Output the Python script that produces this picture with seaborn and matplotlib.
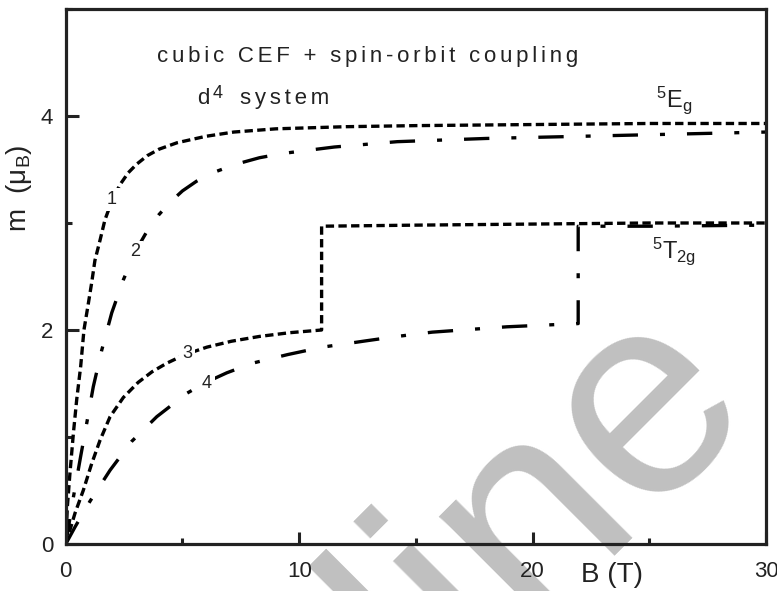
import pandas as pd
import matplotlib.pyplot as plt
import seaborn as sns
from matplotlib.ticker import MultipleLocator

# curve 1 : 5Eg, dashed
b1 = [0, 0.07, 0.18, 0.33, 0.47, 0.64, 0.78, 0.97, 1.11, 1.25, 1.47, 1.68, 2.0, 2.33, 2.68,
      3.04, 3.5, 4.0, 4.77, 6.0, 7.2, 9.0, 12, 15, 20, 25, 30]
m1 = [0, 0.35, 0.66, 1.04, 1.35, 1.66, 2.0, 2.25, 2.44, 2.65, 2.84, 3.03, 3.22, 3.36, 3.47,
      3.55, 3.63, 3.69, 3.75, 3.81, 3.85, 3.88, 3.90, 3.91, 3.92, 3.93, 3.93]

# curve 2 : 5Eg, dash-dot
b2 = [0, 0.33, 0.64, 0.9, 1.18, 1.54, 1.97, 2.47, 3.0, 3.5, 4.0, 4.5, 5.0, 5.6, 6.3, 7.3,
      8.3, 9.3, 11.5, 14.2, 18, 22, 26, 30]
m2 = [0, 0.44, 0.82, 1.13, 1.47, 1.81, 2.16, 2.47, 2.74, 2.93, 3.08, 3.2, 3.3, 3.39, 3.47,
      3.55, 3.61, 3.65, 3.71, 3.76, 3.79, 3.81, 3.83, 3.85]

# curve 3 : 5T2g, dashed
b3 = [0, 0.4, 0.75, 1.11, 1.47, 1.9, 2.47, 3.1, 3.7, 4.33, 5.1, 6.05, 7.1, 8.3, 9.6, 10.96,
      10.96, 15, 20, 25, 30]
m3 = [0, 0.29, 0.5, 0.75, 0.97, 1.19, 1.37, 1.51, 1.61, 1.69, 1.77, 1.84, 1.895, 1.94,
      1.975, 2.0, 2.97, 2.98, 2.99, 3.0, 3.0]

# curve 4 : 5T2g, dash-dot
b4 = [0, 0.4, 1.04, 1.9, 2.83, 3.9, 5.2, 6.0, 6.9, 8.0, 9.5, 11.0, 12.9, 14.2, 15.7, 18.9,
      21.95, 21.95, 25, 30]
m4 = [0, 0.16, 0.4, 0.69, 0.96, 1.19, 1.41, 1.51, 1.6, 1.69, 1.77, 1.84, 1.9, 1.94, 1.98,
      2.03, 2.06, 2.97, 2.97, 2.98]

curve_names = ["1", "2", "3", "4"]
x_ticks = [0, 10, 20, 30]
y_ticks = [0, 2, 4]

frames = []
for name, b, m in zip(curve_names, [b1, b2, b3, b4], [m1, m2, m3, m4]):
    frames.append(pd.DataFrame({"B": b, "m": m, "curve": name}))
df = pd.concat(frames, ignore_index=True)

dash_map = {"1": (2.5, 1.3), "2": (7.6, 6.6, 1.5, 6.6),
            "3": (2.5, 1.3), "4": (7.6, 6.6, 1.5, 6.6)}

sns.set_style("ticks")
plt.rcParams['font.family'] = ['Liberation Sans', 'DejaVu Sans']
plt.rcParams['mathtext.fontset'] = 'custom'
plt.rcParams['mathtext.rm'] = 'Liberation Sans'
plt.rcParams['mathtext.default'] = 'regular'

ink = "#222222"


def spaced(s):
    # the reference text is set with wide letter spacing
    return "\u2006".join(s)


fig = plt.figure(figsize=(7.77, 5.91), dpi=100)
ax = fig.add_axes([0.0846, 0.0795, 0.9014, 0.9053])
ax.set_facecolor("none")

# grey watermark behind the plot
fig.text(0.2165, -0.6735, "Online", fontsize=207, color="#c0c0c0", rotation=45,
         rotation_mode="anchor", ha="left", va="baseline", zorder=-5)

sns.lineplot(data=df, x="B", y="m", style="curve", dashes=dash_map, color="black",
             lw=2.4, estimator=None, sort=False, legend=False, ax=ax)

ax.set_xlim(0, 30)
ax.set_ylim(0, 5)
ax.set_xticks(x_ticks)
ax.set_yticks(y_ticks)
ax.xaxis.set_minor_locator(MultipleLocator(5))
ax.yaxis.set_minor_locator(MultipleLocator(1))
ax.tick_params(which="both", direction="in", width=2.2, color=ink,
               top=False, right=False)
ax.tick_params(which="major", length=9, labelsize=16, labelcolor=ink)
ax.tick_params(axis="x", which="major", pad=12)
ax.tick_params(axis="y", which="major", pad=9)
ax.tick_params(which="minor", length=4.5)
for sp in ax.spines.values():
    sp.set_linewidth(2.3)
    sp.set_color(ink)
    sp.set_visible(True)

ax.set_xlabel("B (T)", fontsize=20, color=ink)
ax.xaxis.set_label_coords(0.78, -0.034)
ax.set_ylabel("m  (μ$_B$)", fontsize=20, color=ink)
ax.yaxis.set_label_coords(-0.046, 0.665)

ax.text(3.9, 4.5, spaced("cubic CEF + spin-orbit coupling"), fontsize=16,
        ha="left", va="baseline", color=ink)
ax.text(5.63, 4.11, "d", fontsize=16, ha="left", va="baseline", color=ink)
ax.text(6.31, 4.17, "4", fontsize=13, ha="left", va="baseline", color=ink)
ax.text(7.47, 4.11, spaced("system"), fontsize=16, ha="left", va="baseline", color=ink)
ax.text(25.3, 4.08, "$^{5}$E$_{g}$", fontsize=17, ha="left", va="baseline", color=ink)
ax.text(25.1, 2.67, "$^{5}$T$_{2g}$", fontsize=17, ha="left", va="baseline", color=ink)

# curve numbers sit on the curves, masking them
label_pos = {"1": (1.98, 3.22), "2": (2.97, 2.73), "3": (5.2, 1.785), "4": (6.05, 1.5)}
for name, (bx, my) in label_pos.items():
    ax.text(bx, my, name, fontsize=13, ha="center", va="center", color=ink, zorder=5,
            bbox=dict(boxstyle="square,pad=0.15", fc="white", ec="none"))

fig.savefig("out.png", dpi=100)
